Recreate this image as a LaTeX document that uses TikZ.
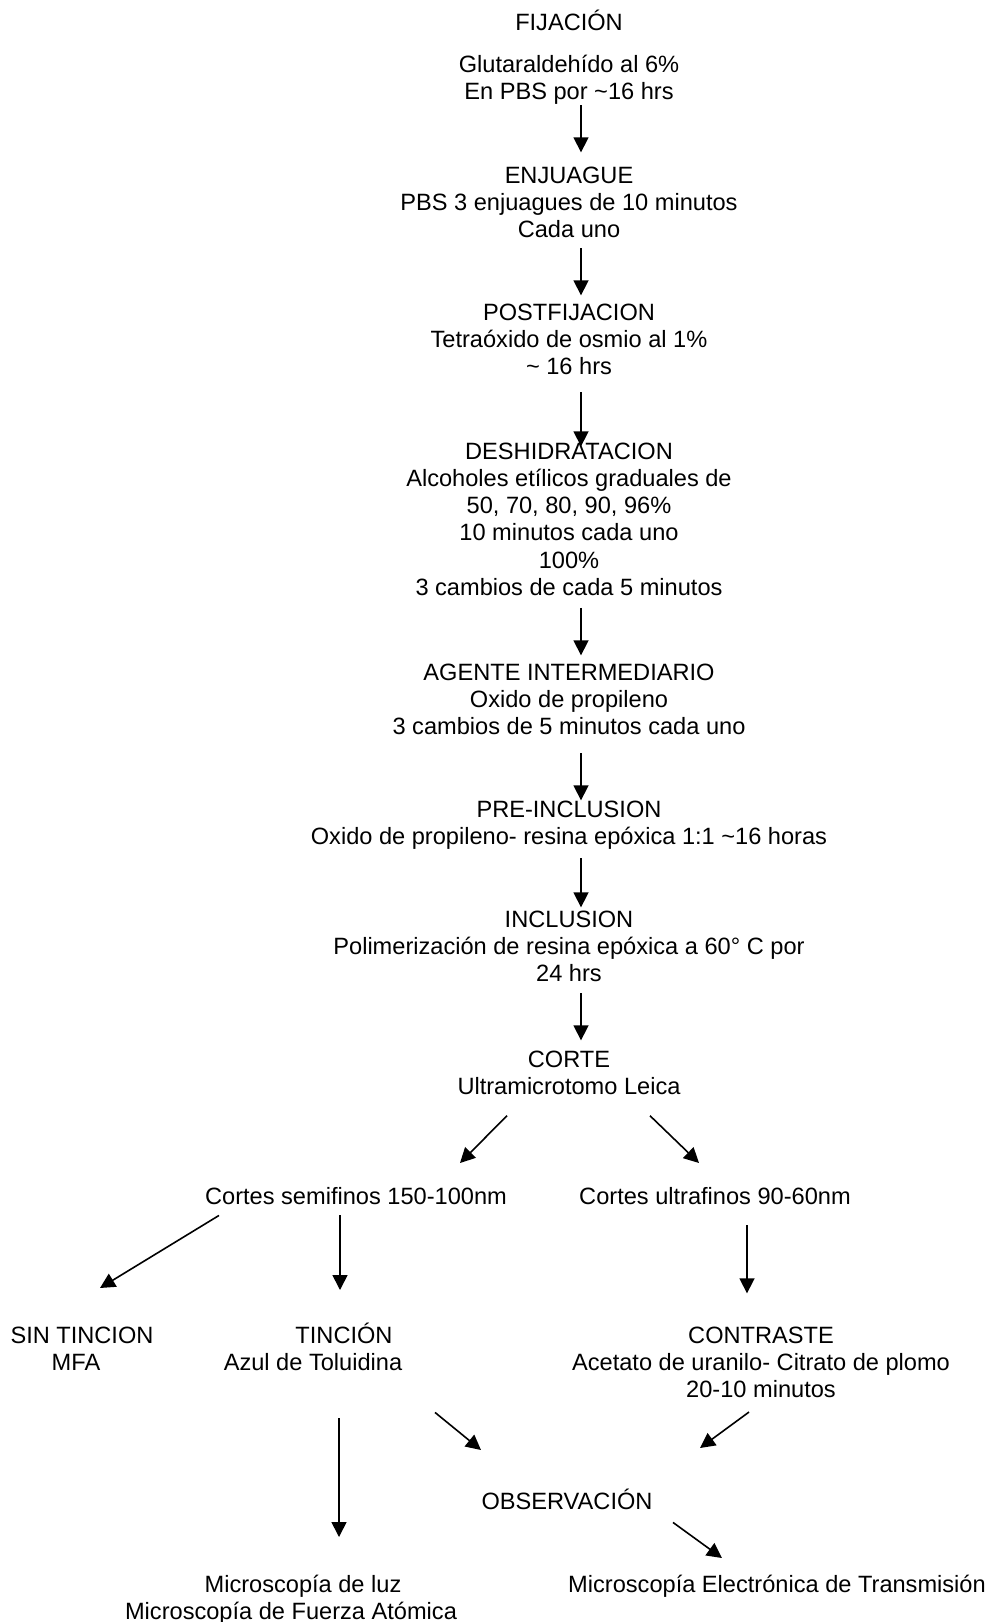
\documentclass[tikz,border=0pt]{standalone}
\usepackage{fontspec}
\setmainfont{Liberation Sans}
\usetikzlibrary{arrows.meta}

\begin{document}
\begin{tikzpicture}[x=1pt,y=-1pt,
    font=\fontsize{23.6}{27.3}\selectfont,
    texto/.style={anchor=base,inner sep=0pt,align=center},
    flecha/.style={line width=1.6pt,-{Triangle[length=15pt,width=15pt]}}]
% marco de la figura (1 unidad = 1 pixel)
\useasboundingbox (0,0) rectangle (1000,1622);
\coordinate (eje) at (581,0);

% cadena principal (cada nodo se sitúa por la base de su última línea)
\node[texto] (fij) at (569,30) {FIJACIÓN};
\node[texto] (glut) at (569,99.3) {Glutaraldehído al 6\%\\En PBS por \textasciitilde16 hrs};
\node[texto] (enj) at (569,237.6) {ENJUAGUE\\PBS 3 enjuagues de 10 minutos\\Cada uno};
\node[texto] (post) at (569,374.6) {POSTFIJACION\\Tetraóxido de osmio al 1\%\\\textasciitilde{} 16 hrs};
\node[texto] (desh) at (569,595.5) {DESHIDRATACION\\Alcoholes etílicos graduales de\\50, 70, 80, 90, 96\%\\10 minutos cada uno\\100\%\\3 cambios de cada 5 minutos};
\node[texto] (agente) at (569,734.6) {AGENTE INTERMEDIARIO\\Oxido de propileno\\3 cambios de 5 minutos cada uno};
\node[texto] (pre) at (569,844.3) {PRE-INCLUSION\\Oxido de propileno- resina epóxica 1:1 \textasciitilde16 horas};
\node[texto] (incl) at (569,981.6) {INCLUSION\\Polimerización de resina epóxica a 60° C por\\24 hrs};
\node[texto] (corte) at (569,1094.3) {CORTE\\Ultramicrotomo Leica};

\foreach \desde/\hasta/\sa/\sb in {glut/enj/1/14, enj/post/10/8, post/desh/17/-4,
    desh/agente/12/8, agente/pre/18/0, pre/incl/9/3, incl/corte/11/10}
  \draw[flecha,shorten <=\sa pt,shorten >=\sb pt] (\desde.south -| eje) -- (\hasta.north -| eje);

% ramas
\node[texto] (semif) at (356,1204) {Cortes semifinos 150-100nm};
\node[texto] (ultraf) at (715,1204) {Cortes ultrafinos 90-60nm};
\node[texto] (sintin) at (82,1343) {SIN TINCION};
\node[texto] (mfa) at (76,1370) {MFA};
\node[texto] (tin) at (344,1343) {TINCIÓN};
\node[texto] (azul) at (313,1370) {Azul de Toluidina};
\node[texto] (contr) at (761,1397.6) {CONTRASTE\\Acetato de uranilo- Citrato de plomo\\20-10 minutos};
\node[texto] (obs) at (567,1509) {OBSERVACIÓN};
\node[texto] (luz) at (303,1592) {Microscopía de luz};
\node[texto] (fuerza) at (291,1619) {Microscopía de Fuerza Atómica};
\node[texto] (met) at (777,1592) {Microscopía Electrónica de Transmisión};

\draw[flecha] ([shift={(-62,21)}]corte.south) -- ([shift={(104,-41)}]semif.base);
\draw[flecha] ([shift={(81,21)}]corte.south) -- ([shift={(-16,-41)}]ultraf.base);
\draw[flecha] ([shift={(-137,11)}]semif.south) -- ([shift={(18,-55)}]sintin.base);
\draw[flecha] ([shift={(-16,11)}]semif.south) -- ([shift={(-4,-53)}]tin.base);
\draw[flecha] ([shift={(32,21)}]ultraf.south) -- ([shift={(-14,-33)}]contr.north);
\draw[flecha] ([shift={(122,42)}]azul.south) -- ([shift={(-86,-59)}]obs.base);
\draw[flecha] ([shift={(-12,14)}]contr.south) -- ([shift={(133,-61)}]obs.base);
\draw[flecha] ([shift={(26,48)}]azul.south) -- ([shift={(36,-55)}]luz.base);
\draw[flecha] ([shift={(106,13)}]obs.south) -- ([shift={(-55,-34)}]met.base);
\end{tikzpicture}
\end{document}
